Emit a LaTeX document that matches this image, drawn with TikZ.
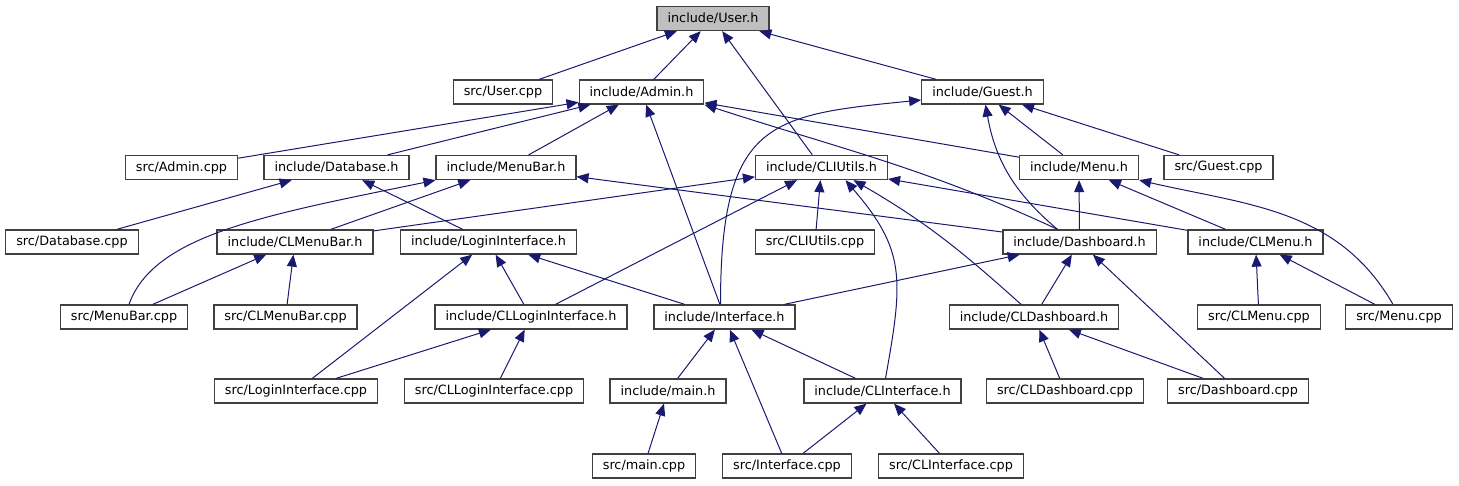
\documentclass[tikz,border=0pt]{standalone}
\usepackage{fontspec}
\setmainfont{DejaVu Sans}
\usetikzlibrary{arrows.meta}
\definecolor{edgeblue}{HTML}{191970}
\definecolor{boxline}{HTML}{404040}
\definecolor{rootfill}{HTML}{BFBFBF}

\begin{document}
\begin{tikzpicture}[
		x=1pt, y=1pt,
		>={Triangle[length=12pt,width=10pt]},
		file/.style={rectangle, draw=boxline, line width=1.3pt, fill=white, minimum height=24pt, inner xsep=10.5pt, font=\fontsize{12.8}{15}\selectfont},
		root/.style={file, fill=rootfill},
		dep/.style={->, draw=edgeblue, line width=1pt}
	]
	\useasboundingbox (0,0) rectangle (1459,-485);

	% Nodes
	\node[root] (user) at (713,-18.5) {include/User.h};

	\node[file] (usercpp) at (503,-92) {src/User.cpp};
	\node[file] (admin) at (641.5,-92) {include/Admin.h};
	\node[file] (guest) at (982.5,-92) {include/Guest.h};

	\node[file] (admincpp) at (181.5,-167.5) {src/Admin.cpp};
	\node[file] (database) at (336.5,-167.5) {include/Database.h};
	\node[file] (menubar) at (506,-167.5) {include/MenuBar.h};
	\node[file] (cliutils) at (821.5,-167.5) {include/CLIUtils.h};
	\node[file] (menu) at (1079,-167.5) {include/Menu.h};
	\node[file] (guestcpp) at (1218.5,-167.5) {src/Guest.cpp};

	\node[file] (databasecpp) at (72,-242) {src/Database.cpp};
	\node[file] (clmenubar) at (295,-242) {include/CLMenuBar.h};
	\node[file] (logininterface) at (488.5,-242) {include/LoginInterface.h};
	\node[file] (cliutilscpp) at (815,-242) {src/CLIUtils.cpp};
	\node[file] (dashboard) at (1079.5,-242) {include/Dashboard.h};
	\node[file] (clmenu) at (1255.5,-242) {include/CLMenu.h};

	\node[file] (menubarcpp) at (124,-317) {src/MenuBar.cpp};
	\node[file] (clmenubarcpp) at (285.5,-317) {src/CLMenuBar.cpp};
	\node[file] (clloginiface) at (531,-317) {include/CLLoginInterface.h};
	\node[file] (iface) at (724.5,-317) {include/Interface.h};
	\node[file] (cldashboard) at (1034,-317) {include/CLDashboard.h};
	\node[file] (clmenucpp) at (1259,-317) {src/CLMenu.cpp};
	\node[file] (menucpp) at (1399,-317) {src/Menu.cpp};

	\node[file] (loginifacecpp) at (296,-391) {src/LoginInterface.cpp};
	\node[file] (clloginifacecpp) at (494,-391) {src/CLLoginInterface.cpp};
	\node[file] (mainh) at (668,-391) {include/main.h};
	\node[file] (cliface) at (882.5,-391) {include/CLInterface.h};
	\node[file] (cldashcpp) at (1065,-391) {src/CLDashboard.cpp};
	\node[file] (dashcpp) at (1238,-391) {src/Dashboard.cpp};

	\node[file] (maincpp) at (644,-466) {src/main.cpp};
	\node[file] (ifacecpp) at (787,-466) {src/Interface.cpp};
	\node[file] (clifacecpp) at (951,-466) {src/CLInterface.cpp};

	% Arrows
	\draw[dep] (usercpp) -- (user);
	\draw[dep] (admin) -- (user);
	\draw[dep] (cliutils) -- (user);
	\draw[dep] (guest) -- (user);

	\draw[dep] (admincpp) -- (admin);
	\draw[dep] (database) -- (admin);
	\draw[dep] (menubar) -- (admin);
	\draw[dep] (iface) -- (admin);
	\draw[dep] ([xshift=-22pt]dashboard.north) to[out=155, in=-18] (admin.south east);
	\draw[dep] (menu) -- (admin);

	\draw[dep] ([xshift=-4pt]iface.north) .. controls +(0,184) and +(-151,-15) .. ([yshift=-8pt]guest.west);
	\draw[dep] ([xshift=-22pt]dashboard.north) to[out=140, in=-80] ([xshift=3pt]guest.south);
	\draw[dep] (menu) -- (guest);
	\draw[dep] (guestcpp) -- (guest);

	\draw[dep] (databasecpp) -- (database);
	\draw[dep] (logininterface) -- (database);

	\draw[dep] ([xshift=5pt]menubarcpp.north) .. controls +(25,70) and +(-170,-35) .. (menubar.south west);
	\draw[dep] (clmenubar) -- (menubar);
	\draw[dep] (dashboard) -- (menubar);

	\draw[dep] (clmenubar) -- (cliutils);
	\draw[dep] (clloginiface) -- (cliutils);
	\draw[dep] (cliutilscpp) -- (cliutils);
	\draw[dep] ([xshift=3pt]cliface.north) .. controls +(18,100) and +(60,-70) .. ([xshift=24pt]cliutils.south);
	\draw[dep] ([xshift=-13pt]cldashboard.north) to[out=138, in=-30] ([xshift=32pt]cliutils.south);
	\draw[dep] (clmenu) -- (cliutils);

	\draw[dep] (dashboard) -- (menu);
	\draw[dep] (clmenu) -- (menu);
	\draw[dep] ([xshift=-6pt]menucpp.north) to[out=120, in=-13] (menu.south east);

	\draw[dep] (menubarcpp) -- (clmenubar);
	\draw[dep] (clmenubarcpp) -- (clmenubar);

	\draw[dep] (loginifacecpp) -- (logininterface);
	\draw[dep] (clloginiface) -- (logininterface);
	\draw[dep] (iface) -- (logininterface);

	\draw[dep] (iface) -- (dashboard);
	\draw[dep] (cldashboard) -- (dashboard);
	\draw[dep] (dashcpp) -- (dashboard);

	\draw[dep] (clmenucpp) -- (clmenu);
	\draw[dep] (menucpp) -- (clmenu);

	\draw[dep] (loginifacecpp) -- (clloginiface);
	\draw[dep] (clloginifacecpp) -- (clloginiface);

	\draw[dep] (mainh) -- (iface);
	\draw[dep] (ifacecpp) -- (iface);
	\draw[dep] (cliface) -- (iface);

	\draw[dep] (cldashcpp) -- (cldashboard);
	\draw[dep] (dashcpp) -- (cldashboard);

	\draw[dep] (maincpp) -- (mainh);

	\draw[dep] (ifacecpp) -- (cliface);
	\draw[dep] (clifacecpp) -- (cliface);
\end{tikzpicture}
\end{document}
